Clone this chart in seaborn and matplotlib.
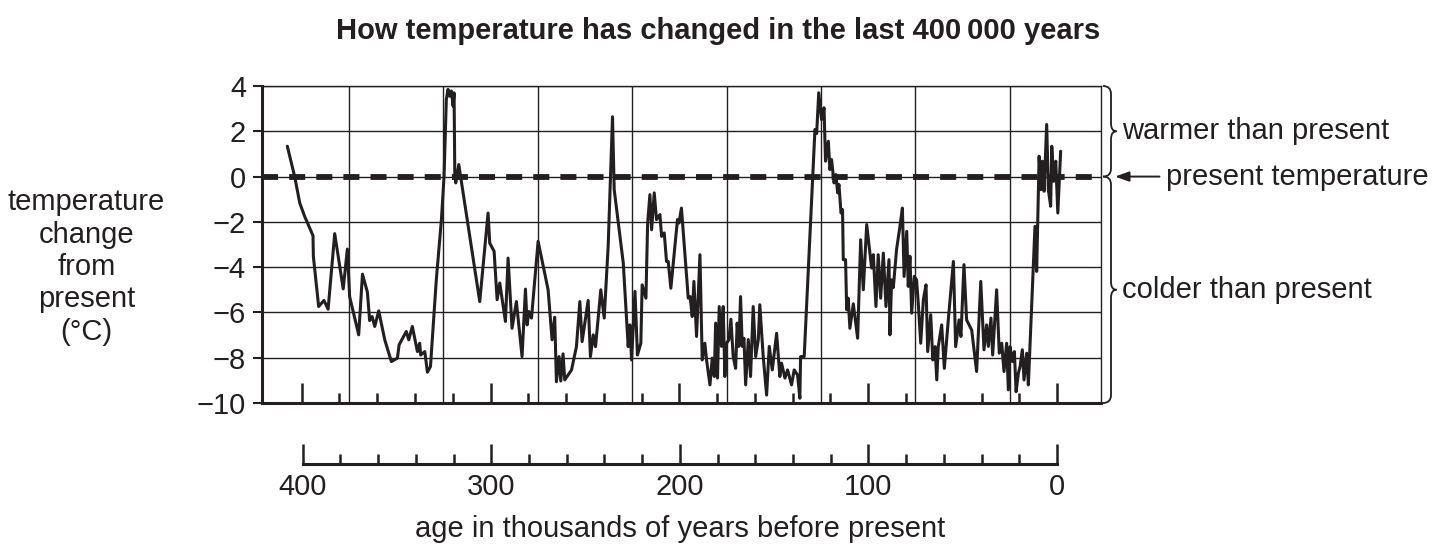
import numpy as np
import pandas as pd
import matplotlib
matplotlib.use("Agg")
import matplotlib.pyplot as plt
import seaborn as sns
from matplotlib.path import Path
from matplotlib.patches import PathPatch
from matplotlib.transforms import IdentityTransform, blended_transform_factory

# ---------------- data ----------------
age_kyr = [
    407.6, 403.7, 401.0, 398.4, 394.0, 393.8, 391.0, 388.2, 386.0, 382.5,
    378.0, 375.8, 374.6, 369.8, 367.8, 365.2, 364.0, 362.7, 361.3, 359.2,
    356.0, 352.5, 349.3, 348.4, 344.6, 343.3, 341.4, 338.7, 337.5, 337.0,
    334.8, 333.4, 331.8, 328.7, 326.0, 324.6, 323.4, 322.5, 321.6, 320.7,
    319.8, 319.3, 318.9, 318.4, 316.8, 314.5,
    305.7, 301.3, 300.4, 298.1, 296.5, 295.1, 292.1, 290.7, 288.6, 286.3,
    283.3, 281.5, 280.6, 279.7, 278.3, 274.8, 269.5, 268.6, 267.4, 266.0,
    265.1, 263.7, 262.8, 261.6, 260.7, 257.1, 254.5, 252.7, 251.5, 248.3,
    247.1, 245.6, 244.4, 241.6, 239.8, 237.7, 235.4, 234.5, 229.7, 227.1,
    226.2, 225.3, 223.5, 222.2, 220.4, 219.7, 217.7, 216.8, 215.6, 214.7,
    213.3, 212.1, 210.3, 209.4, 208.0, 206.8, 205.9, 204.5, 201.0, 200.2,
    198.9,
    195.3, 194.3, 193.2, 192.3, 190.9, 189.1, 187.9, 186.5, 185.6, 183.8,
    182.6, 181.5, 180.8, 179.8, 178.9, 177.7, 176.8, 175.9, 175.0, 173.8,
    172.7, 171.5, 170.2, 169.4, 168.5, 167.6, 166.7, 165.8, 164.9, 163.5,
    162.3, 160.9, 159.6, 158.2, 157.4, 155.6, 153.8, 152.4, 150.8, 148.5,
    146.8, 145.9, 144.1, 142.7, 140.6, 139.2, 137.4, 136.2, 135.8, 133.9,
    128.2, 127.3, 126.2, 124.7, 123.4, 122.6, 121.1, 120.3, 119.4, 118.1,
    117.1, 116.2, 115.5, 114.4, 113.6, 113.2, 112.0, 111.4, 110.6, 109.7,
    107.9, 105.6, 104.0, 102.6, 100.8, 98.2, 97.3, 95.9, 94.7, 93.4,
    92.0, 90.6,
    89.0, 88.5, 87.6, 86.7, 85.0, 83.2, 81.9, 81.0, 79.6, 78.8,
    77.9, 77.0, 75.6, 74.4, 73.5, 72.2, 70.8, 69.4, 68.5, 66.9,
    65.8, 64.6, 63.7, 62.9, 61.1, 59.7, 57.6, 54.9, 53.7, 51.9,
    50.9, 49.3, 47.9, 45.2, 42.6, 40.4, 38.7, 37.3, 36.4, 35.0,
    34.1, 32.0, 30.6, 29.3, 28.1, 26.7, 25.8, 24.9, 23.7, 22.6,
    21.7, 20.5, 19.6, 18.4, 17.5, 16.1, 15.2, 11.7, 10.8, 9.5,
    8.7, 7.8, 6.9, 5.5, 4.6, 3.4, 2.8, 1.8, 0.7, -0.4,
    -1.9,
]
temp_change = [
    1.34, 0.0, -1.17, -1.76, -2.61, -3.53, -5.74, -5.47, -5.86, -2.52,
    -4.96, -3.2, -5.3, -6.99, -4.31, -5.1, -6.36, -6.18, -6.62, -5.93,
    -7.21, -8.17, -8.02, -7.43, -6.84, -7.21, -6.62, -7.73, -7.36, -7.88,
    -7.73, -8.64, -8.39, -4.56, -1.9, 0.0, 3.4, 3.85, 3.55, 3.78,
    3.11, 3.7, 0.0, -0.28, 0.53, -0.72,
    -5.52, -1.61, -2.94, -3.3, -5.44, -4.7, -6.4, -3.6, -6.7, -5.52,
    -7.95, -4.97, -6.55, -5.96, -6.25, -2.86, -5.0, -5.96, -7.21, -6.21,
    -9.06, -7.95, -9.03, -7.83, -8.98, -8.54, -7.51, -5.52, -7.29, -5.47,
    -7.95, -6.99, -7.51, -5.0, -6.25, -3.08, 2.64, -0.58, -3.82, -7.51,
    -6.55, -8.1, -5.07, -7.88, -7.36, -4.78, -5.37, -2.05, -0.8, -2.35,
    -0.72, -1.9, -1.68, -2.64, -2.49, -3.75, -3.75, -4.93, -1.9, -2.05,
    -1.39,
    -5.37, -5.3, -6.18, -4.63, -7.06, -3.45, -8.1, -7.36, -8.1, -9.2,
    -8.02, -8.83, -6.47, -8.9, -5.74, -7.5, -5.74, -8.83, -7.36, -7.21,
    -6.3, -7.95, -8.47, -6.47, -7.5, -5.3, -7.5, -7.14, -9.2, -7.2,
    -8.83, -5.74, -7.95, -7.2, -5.66, -7.95, -9.65, -7.5, -8.54, -6.92,
    -8.83, -8.24, -8.9, -8.54, -9.2, -8.54, -8.76, -9.79, -7.95, -7.95,
    2.08, 1.9, 3.7, 2.52, 3.04, 0.68, 1.56, 0.31, 0.75, -0.28,
    0.09, -0.72, -0.35, -1.61, -1.46, -3.67, -3.67, -5.88, -5.37, -6.7,
    -5.62, -7.14, -2.79, -5.0, -2.12, -4.04, -3.45, -5.74, -3.45, -5.37,
    -3.38, -5.74,
    -3.67, -6.99, -4.56, -4.9, -3.23, -2.2, -1.39, -4.41, -2.42, -4.85,
    -3.52, -6.03, -4.41, -4.56, -5.59, -7.36, -5.44, -4.78, -7.73, -6.1,
    -8.1, -7.51, -8.98, -7.51, -6.55, -8.47, -6.33, -3.75, -7.51, -6.33,
    -7.06, -3.89, -6.33, -6.78, -8.61, -4.63, -7.65, -6.55, -7.5, -6.25,
    -7.88, -5.0, -7.8, -7.36, -8.61, -7.36, -9.42, -7.51, -8.17, -7.73,
    -9.5, -8.69, -8.4, -7.65, -8.98, -7.8, -9.2, -2.2, -4.19, 0.9,
    -0.58, 0.68, -0.65, 2.3, -0.58, -1.31, 1.34, -0.21, 0.68, -1.61,
    1.12,
]
y_ticks = [4, 2, 0, -2, -4, -6, -8, -10]
x_ticks = [400, 300, 200, 100, 0]
x_minor_ticks = list(range(0, 401, 20))
grid_ages = [375, 325, 275, 225, 175, 125, 75, 25]

title_text = "How temperature has changed in the last 400\u2009000 years"
ylabel_text = "temperature\nchange\nfrom\npresent\n(°C)"
xlabel_text = "age in thousands of years before present"

# ---------------- style ----------------
sns.set_theme(style="white")
plt.rcParams["font.family"] = ["Liberation Sans", "DejaVu Sans"]
INK = "#231f20"
FS = 21

W, H = 1450, 546
fig = plt.figure(figsize=(W / 100, H / 100), dpi=100)
fig.patch.set_facecolor("white")


def fx(px):
    return px / W


def fy(py):
    return 1 - py / H


# ---------------- main panel ----------------
ax = fig.add_axes([fx(262), fy(403), fx(1100.5) - fx(262), fy(86) - fy(403)])
df = pd.DataFrame({"age": age_kyr, "temp": temp_change})

for yv in y_ticks:
    ax.axhline(yv, color=INK, lw=1.0, zorder=1)
ax.vlines(grid_ages, -10, 4, color=INK, lw=1.0, zorder=1)
ax.axhline(0, color=INK, lw=4.2, dashes=(2.75, 1.9), zorder=2)

sns.lineplot(data=df, x="age", y="temp", ax=ax, color=INK, lw=2.2,
             estimator=None, sort=False, zorder=3)

ax.set_xlim(421.0, -23.0)
ax.set_ylim(-10, 4)
ax.set_xlabel("")
ax.set_ylabel("")

for side in ["left", "bottom"]:
    ax.spines[side].set_linewidth(2.2)
    ax.spines[side].set_color(INK)
for side in ["top", "right"]:
    ax.spines[side].set_linewidth(1.0)
    ax.spines[side].set_color(INK)

ax.set_yticks(y_ticks)
ax.set_yticklabels([f"{v}".replace("-", "\u2212") for v in y_ticks])
ax.tick_params(axis="y", left=True, direction="out", length=6.5, width=1.5,
               pad=5, labelsize=FS, colors=INK)
ax.set_xticks(x_ticks)
ax.set_xticks(x_minor_ticks, minor=True)
ax.tick_params(axis="x", which="major", bottom=True, direction="in",
               length=14.4, width=1.8, labelbottom=False, color=INK)
ax.tick_params(axis="x", which="minor", bottom=True, direction="in",
               length=7.5, width=1.8, labelbottom=False, color=INK)

ax.set_ylabel(ylabel_text, rotation=0, ha="center", va="center",
              fontsize=FS, color=INK, linespacing=1.2)
ax.yaxis.set_label_coords((86.5 - 262) / 838.5, (403 - 267) / 317)

# ---------------- separate age axis ----------------
ax2 = fig.add_axes([fx(302.7), fy(464), fx(1057) - fx(302.7), 0.05])
ax2.patch.set_visible(False)
ax2.set_xlim(400, 0)
ax2.set_yticks([])
for side in ["left", "right", "top"]:
    ax2.spines[side].set_visible(False)
ax2.spines["bottom"].set_linewidth(2.2)
ax2.spines["bottom"].set_color(INK)
ax2.set_xticks(x_ticks)
ax2.set_xticklabels([str(v) for v in x_ticks])
ax2.set_xticks(x_minor_ticks, minor=True)
ax2.tick_params(axis="x", which="major", bottom=True, direction="in",
                length=14.4, width=1.8, pad=6.5, labelsize=FS, colors=INK)
ax2.tick_params(axis="x", which="minor", bottom=True, direction="in",
                length=7.5, width=1.8, color=INK)
ax2.set_xlabel(xlabel_text, fontsize=FS, color=INK, labelpad=10)

# ---------------- title ----------------
fig.text(fx(718), fy(31), title_text, ha="center", va="center",
         fontsize=21, fontweight="bold", color=INK)

# ---------------- right-hand annotations ----------------
trans = blended_transform_factory(ax.transAxes, ax.transData)


def brace(y_top, y_bot, y_tip):
    xt, yt = trans.transform((1.0, y_top))
    _, yb = trans.transform((1.0, y_bot))
    _, ym = trans.transform((1.0, y_tip))
    x0, x1, x2, r = xt + 2.5, xt + 10.5, xt + 16.0, 8.0
    verts = [(x0, yt), (x1, yt), (x1, yt - r),
             (x1, ym + r),
             (x1, ym), (x2, ym),
             (x1, ym), (x1, ym - r),
             (x1, yb + r),
             (x1, yb), (x0, yb)]
    codes = [Path.MOVETO, Path.CURVE3, Path.CURVE3,
             Path.LINETO,
             Path.CURVE3, Path.CURVE3,
             Path.CURVE3, Path.CURVE3,
             Path.LINETO,
             Path.CURVE3, Path.CURVE3]
    fig.add_artist(PathPatch(Path(verts, codes), transform=IdentityTransform(),
                             fill=False, edgecolor=INK, lw=1.3))


brace(4, 0, 2)
brace(0, -10, -5)

ax.text(1 + 22 / 838.5, 2, "warmer than present", transform=trans,
        ha="left", va="center", fontsize=FS, color=INK, clip_on=False)
ax.text(1 + 22 / 838.5, -5, "colder than present", transform=trans,
        ha="left", va="center", fontsize=FS, color=INK, clip_on=False)
ax.text(1 + 66 / 838.5, 0, "present temperature", transform=trans,
        ha="left", va="center", fontsize=FS, color=INK, clip_on=False)
ax.annotate("", xy=(1 + 14.5 / 838.5, 0), xytext=(1 + 59 / 838.5, 0),
            xycoords=trans, textcoords=trans, annotation_clip=False,
            arrowprops=dict(arrowstyle="-|>,head_length=0.7,head_width=0.25",
                            color=INK, lw=1.4, shrinkA=0, shrinkB=0))

fig.savefig("out.png", dpi=100, facecolor="white")
